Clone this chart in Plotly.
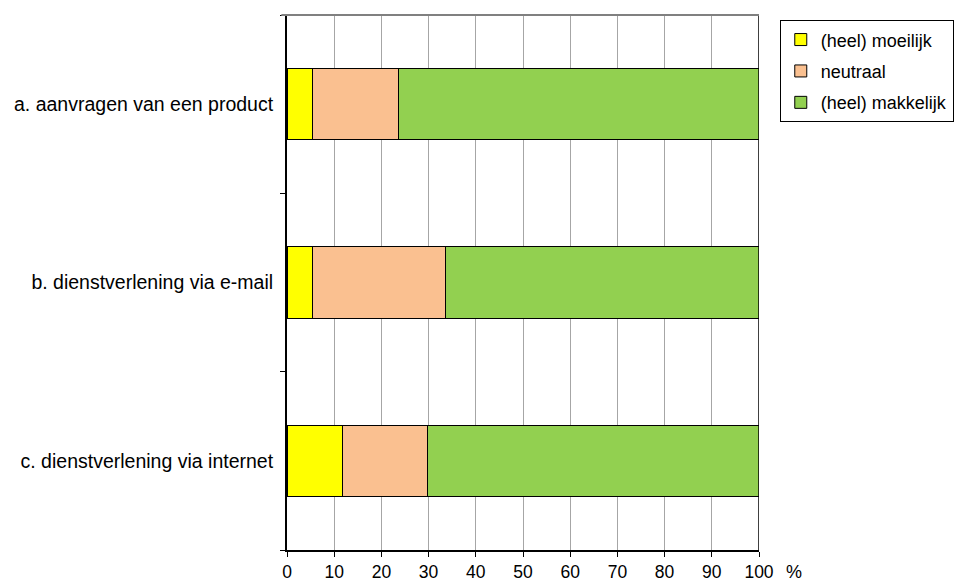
import plotly.graph_objects as go

categories = ["a. aanvragen van een product", "b. dienstverlening via e-mail", "c. dienstverlening via internet"]
series_names = ["(heel) moeilijk", "neutraal", "(heel) makkelijk"]
moeilijk = [5.3, 5.3, 11.8]
neutraal = [18.3, 28.2, 18.0]
makkelijk = [76.4, 66.5, 70.2]
x_ticks = [0, 10, 20, 30, 40, 50, 60, 70, 80, 90, 100]

colors = ["#FFFF00", "#FAC090", "#92D050"]
values = [moeilijk, neutraal, makkelijk]

FONT = "Liberation Sans, Arial, sans-serif"

fig = go.Figure()
for i, (name, vals) in enumerate(zip(series_names, values)):
    fig.add_trace(go.Bar(
        y=categories, x=vals, name=name, orientation="h",
        marker=dict(color=colors[i], line=dict(color="#000000", width=1)),
        width=0.4, legendgroup=f"g{i}",
    ))

fig.update_layout(
    barmode="stack",
    width=956, height=583,
    margin=dict(l=287, r=197, t=15, b=33, autoexpand=False),
    plot_bgcolor="white", paper_bgcolor="white",
    font=dict(family=FONT, size=18, color="#000000"),
    showlegend=True,
    legend=dict(
        x=1.044, y=0.99, xanchor="left", yanchor="top",
        bordercolor="#000000", borderwidth=1,
        font=dict(size=18), traceorder="grouped", tracegroupgap=5,
        itemwidth=30,
    ),
    xaxis=dict(
        range=[0, 100], tickvals=x_ticks, showgrid=True, gridcolor="#A6A6A6", gridwidth=1,
        showline=True, linecolor="#000000", linewidth=2, ticks="outside", ticklen=5,
        tickcolor="#000000", zeroline=False, tickfont=dict(size=17.5),
        ticklabelstandoff=0, automargin=False,
    ),
    yaxis=dict(
        categoryorder="array", categoryarray=categories[::-1],
        showline=True, linecolor="#000000", linewidth=2, ticks="outside", ticklen=5,
        tickcolor="#000000", tickson="boundaries", showgrid=False,
        tickfont=dict(size=19.5), ticklabelstandoff=8, automargin=False,
    ),
)

# right border at 100 and top line
fig.add_shape(type="line", xref="x", yref="paper", x0=100, x1=100, y0=0, y1=1,
              line=dict(color="#000000", width=1.5))
fig.add_shape(type="line", xref="paper", yref="paper", x0=-0.012, x1=1, y0=1, y1=1,
              line=dict(color="#808080", width=2))

fig.add_annotation(text="%", xref="paper", yref="paper", x=1.0735, y=0, yshift=-22,
                   showarrow=False, xanchor="center", yanchor="middle", font=dict(size=18))

fig.write_html("out.html")
